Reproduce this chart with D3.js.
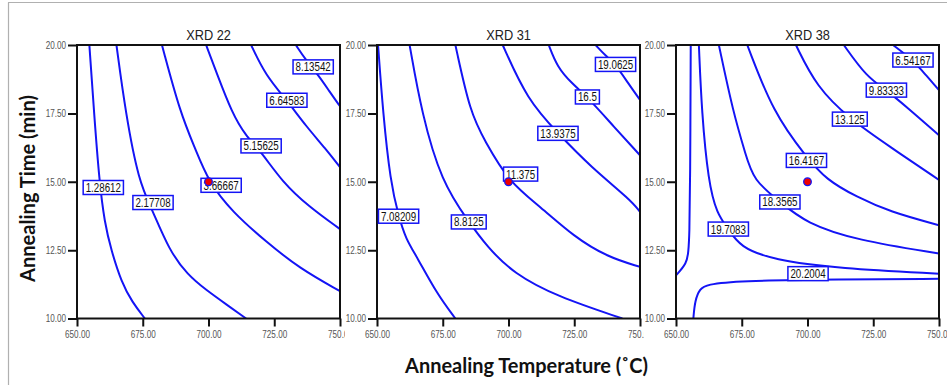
<!DOCTYPE html>
<html><head><meta charset="utf-8">
<script src="https://cdn.jsdelivr.net/npm/d3@7"></script>
<style>body{margin:0;background:#fff} svg{display:block}</style>
</head><body>
<svg id="c" width="947" height="385"></svg>
<script>
// ---------- data ----------
const xTicks = [650, 675, 700, 725, 750];
const yTicks = [10, 12.5, 15, 17.5, 20];
const panelTitles = ["XRD 22", "XRD 31", "XRD 38"];
const designPoint = [700, 15];
const xTitle = "Annealing Temperature (\u02DAC)";
const yTitle = "Annealing Time (min)";

// contour lines as [temperature, time] points
const xrd22Lines = [
  [[654.7,20],[656.5,17.5],[658.5,15],[660.5,13.5],[663,12.5],[667,11.3],[671,10.6],[675.8,10]],
  [[665,20],[668.5,17.5],[673.5,15],[678.5,14],[685,12.5],[692,11.6],[699,11.05],[707,10.5],[714.3,10]],
  [[682.3,20],[689.3,17.5],[695,16.2],[700,15],[709,13.9],[722,12.8],[734.5,11.84],[750,11.0]],
  [[699.1,20],[703,19],[709,17.5],[714,16.7],[720,16.1],[728,15],[738,14.1],[750,13.27]],
  [[716.2,20],[721.8,18.87],[729.8,17.98],[737,17.04],[744.6,16.2],[750,15.53]],
  [[733.2,20],[737,19.45],[742,18.87],[746,18.3],[750,17.76]]
];
const xrd22Labels = [1.28612, 2.17708, 3.66667, 5.15625, 6.64583, 8.13542];
const xrd22LabelAt = [[660,14.79],[678.9,14.24],[704.8,14.87],[720,16.31],[729.8,17.98],[739.8,19.2]];

const xrd31Lines = [
  [[650.4,20],[652.3,17.5],[655.1,15],[658.2,13.74],[661,12.9],[665.2,12.25],[672.8,10.9],[679.8,10]],
  [[662.4,20],[667,17.5],[674.5,15],[684.9,13.53],[691.9,12.62],[702,11.64],[718.5,10.8],[743.3,10]],
  [[679.8,20],[685.5,17.5],[691,16.5],[700,15],[712.2,14.08],[724.9,12.99],[737.6,12.25],[750,11.89]],
  [[697.8,20],[707.1,18],[718.8,16.77],[731.2,15.55],[746.5,14.33],[750,13.9]],
  [[715.3,20],[718.5,19.2],[724,18.6],[730,18.1],[740.1,17.01],[750,15.97]],
  [[733.1,20],[737,19.6],[740.7,19.29],[745.5,18.6],[750,17.99]]
];
const xrd31Labels = [7.08209, 8.8125, 11.375, 13.9375, 16.5, 19.0625];
const xrd31LabelAt = [[658.2,13.74],[684.9,13.53],[704.6,15.28],[718.8,16.77],[730,18.1],[740.7,19.29]];

const xrd38Lines = [
  [[732.5,20],[740.1,19.45],[745,18.9],[750,18.35]],
  [[713.8,20],[722.4,18.84],[730,18.35],[737.6,17.74],[750,16.7]],
  [[695.6,20],[703.4,18.47],[716.1,17.29],[731.3,16.28],[750,15.07]],
  [[677.1,20],[687,17.51],[699.6,15.9],[707.2,15.07],[718.6,14.45],[731.3,13.9],[750,13.41]],
  [[666.3,20],[671.8,17.51],[676.5,16],[679.4,15.06],[689.5,14.26],[699.6,13.48],[718.6,12.86],[750,12.38]],
  [[658.7,20],[659.8,17.51],[662.3,15],[665.5,13.84],[669.9,13.27],[674.3,12.62],[686.9,12.14],[712.3,11.83],[750,11.64]],
  [[656.6,10],[657.2,10.66],[659.1,11.09],[661.7,11.24],[673,11.38],[712,11.43],[750,11.45]],
  [[655.6,20],[655.4,15],[655.1,13],[654.7,12.44],[654.1,12.01],[650,11.58]]
];
const xrd38Labels = [6.54167, 9.83333, 13.125, 16.4167, 18.3565, 19.7083, 20.2004];
const xrd38LabelAt = [[740.1,19.45],[730,18.35],[716.1,17.29],[699.6,15.78],[689.5,14.26],[669.9,13.27],[700.2,11.64]];

// ---------- layout ----------
const panels = [
  {title: panelTitles[0], lines: xrd22Lines, labels: xrd22Labels, at: xrd22LabelAt},
  {title: panelTitles[1], lines: xrd31Lines, labels: xrd31Labels, at: xrd31LabelAt},
  {title: panelTitles[2], lines: xrd38Lines, labels: xrd38Labels, at: xrd38LabelAt}
];
const plotLeft = [77, 377, 676];
const clipLeft = [9, 345, 644];
const clipRight = [345, 644, 947];
const plotTop = 45, plotBottom = 318.5, plotW = 263;
const blue = "#1414f5";
const sans = "'Liberation Sans',Arial,sans-serif";

// compress a text horizontally to mimic a narrow face
function narrowText(sel, f) {
  sel.each(function () {
    const w = this.getComputedTextLength();
    d3.select(this).attr("textLength", w * f).attr("lengthAdjust", "spacingAndGlyphs");
  });
}

const svg = d3.select("#c");
const defs = svg.append("defs");

// outer frame (gray lines)
svg.append("line").attr("x1", 8).attr("x2", 947).attr("y1", 2.5).attr("y2", 2.5)
  .attr("stroke", "#b0b0b0").attr("stroke-width", 1.2);
svg.append("line").attr("x1", 8.5).attr("x2", 8.5).attr("y1", 2.5).attr("y2", 385)
  .attr("stroke", "#b0b0b0").attr("stroke-width", 1.2);

panels.forEach((p, i) => {
  const L = plotLeft[i];
  const x = d3.scaleLinear().domain([650, 750]).range([L, L + plotW]);
  const y = d3.scaleLinear().domain([10, 20]).range([plotBottom, plotTop]);

  defs.append("clipPath").attr("id", "pc" + i).append("rect")
    .attr("x", clipLeft[i]).attr("y", 3.5).attr("width", clipRight[i] - clipLeft[i]).attr("height", 380);
  defs.append("clipPath").attr("id", "pl" + i).append("rect")
    .attr("x", L).attr("y", plotTop).attr("width", plotW).attr("height", plotBottom - plotTop);

  const g = svg.append("g").attr("clip-path", `url(#pc${i})`);

  // title
  const tt = g.append("text").attr("x", (x.range()[0] + x.range()[1]) / 2).attr("y", 40)
    .attr("text-anchor", "middle").attr("font-family", sans)
    .attr("font-size", 14.5).attr("fill", "#222").text(p.title);
  narrowText(tt, 0.88);

  // contour lines
  const line = d3.line().x(d => x(d[0])).y(d => y(d[1])).curve(d3.curveBasis);
  const lg = g.append("g").attr("clip-path", `url(#pl${i})`);
  lg.selectAll("path").data(p.lines).join("path")
    .attr("d", line).attr("fill", "none").attr("stroke", blue).attr("stroke-width", 2);

  // axes
  const yAxis = d3.axisLeft(y).tickValues(yTicks).tickFormat(d3.format(".2f")).tickSize(9).tickPadding(2);
  const xAxis = d3.axisBottom(x).tickValues(xTicks).tickFormat(d3.format(".2f")).tickSize(8).tickPadding(4);
  const ya = g.append("g").attr("transform", `translate(${L},0)`).call(yAxis);
  const xa = g.append("g").attr("transform", `translate(0,${plotBottom})`).call(xAxis);
  [ya, xa].forEach(a => {
    a.select(".domain").remove();
    a.selectAll(".tick line").attr("stroke", "#111").attr("stroke-width", 2);
    a.selectAll(".tick text").attr("font-family", sans).attr("font-size", 10.7).attr("fill", "#555");
    narrowText(a.selectAll(".tick text"), 0.76);
  });

  // frame
  g.append("rect").attr("x", L).attr("y", plotTop).attr("width", plotW).attr("height", plotBottom - plotTop)
    .attr("fill", "none").attr("stroke", "#111").attr("stroke-width", 2);

  // contour labels
  p.labels.forEach((v, k) => {
    const cx = x(p.at[k][0]), cy = y(p.at[k][1]);
    const lab = g.append("g");
    const r = lab.append("rect");
    const t = lab.append("text").attr("x", cx).attr("y", cy).attr("dy", "0.36em")
      .attr("text-anchor", "middle").attr("font-family", sans).attr("font-size", 12.5)
      .attr("fill", "#111").text(String(v));
    const w = t.node().getComputedTextLength() * 0.78;
    t.attr("textLength", w).attr("lengthAdjust", "spacingAndGlyphs");
    r.attr("x", cx - w / 2 - 2.5).attr("y", cy - 7).attr("width", w + 5).attr("height", 14)
      .attr("fill", "#fff").attr("stroke", blue).attr("stroke-width", 1.5);
  });

  // design point
  g.append("circle").attr("cx", x(designPoint[0])).attr("cy", y(designPoint[1])).attr("r", 3.8)
    .attr("fill", "#ee0000").attr("stroke", blue).attr("stroke-width", 1.3);
});

// axis titles
const xt = svg.append("text").attr("x", 526.5).attr("y", 373).attr("text-anchor", "middle")
  .attr("font-family", "Lato,'Open Sans',sans-serif").attr("font-weight", "bold")
  .attr("font-size", 20).attr("fill", "#111").text(xTitle);
const xw = xt.node().getComputedTextLength();
xt.attr("font-size", 20 * 243 / xw);

const yt = svg.append("text").attr("transform", "translate(35,188.5) rotate(-90)").attr("text-anchor", "middle")
  .attr("font-family", "Lato,'Open Sans',sans-serif").attr("font-weight", "bold")
  .attr("font-size", 20).attr("fill", "#111").text(yTitle);
const yw = yt.node().getComputedTextLength();
yt.attr("font-size", 20 * 187 / yw);
</script>
</body></html>
